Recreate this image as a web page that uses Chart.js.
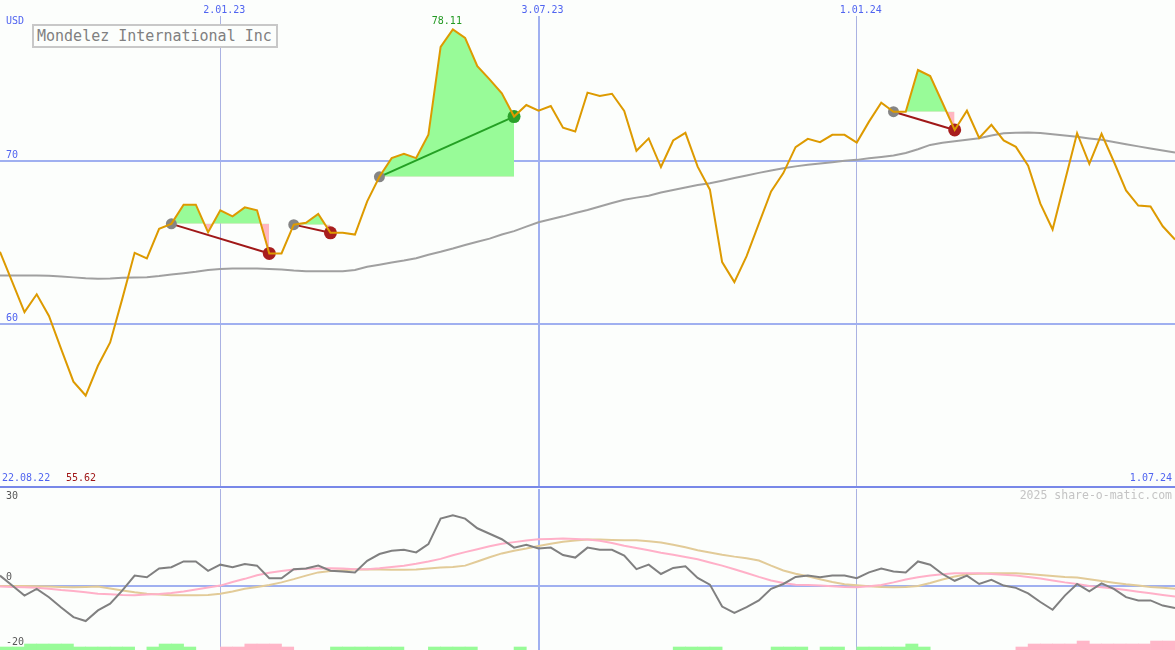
<!DOCTYPE html>
<html>
<head>
<meta charset="utf-8">
<title>Mondelez International Inc</title>
<script src="https://cdn.jsdelivr.net/npm/chart.js@4.4.1/dist/chart.umd.min.js"></script>
<style>
  body { margin: 0; background: #fcfefc; }
  #wrap { position: relative; width: 1175px; height: 650px; overflow: hidden; }
  #wrap canvas { position: absolute; left: 0; }
  .title {
    position: absolute; left: 32px; top: 24px; width: 246px; height: 24px;
    box-sizing: border-box; border: 2px solid #c8c8c8; background: #fcfefc;
    font: 15px "DejaVu Sans Mono", monospace; color: #808080;
    line-height: 20px; padding-left: 3px; white-space: nowrap;
  }
</style>
</head>
<body>
<div id="wrap">
  <canvas id="priceChart" width="1175" height="489" style="top:0"></canvas>
  <canvas id="oscChart" width="1175" height="161" style="top:489px"></canvas>
  <div class="title">Mondelez International Inc</div>
</div>
<script>
// weekly closes, 22.08.22 .. 1.07.24 (USD)
const price = [
  64.45, 62.60, 60.75, 61.84, 60.51, 58.47, 56.47, 55.62, 57.45, 58.88,
  61.59, 64.39, 64.04, 65.86, 66.17, 67.35, 67.35, 65.65, 67.00, 66.63,
  67.18, 67.00, 64.35, 64.35, 66.12, 66.23, 66.78, 65.62, 65.62, 65.51,
  67.55, 69.06, 70.21, 70.47, 70.21, 71.64, 77.04, 78.11, 77.59, 75.86,
  75.05, 74.19, 72.76, 73.47, 73.12, 73.41, 72.08, 71.84, 74.23, 74.02,
  74.16, 73.10, 70.66, 71.42, 69.66, 71.29, 71.76, 69.68, 68.27, 63.82,
  62.59, 64.18, 66.18, 68.16, 69.29, 70.88, 71.39, 71.19, 71.64, 71.64,
  71.16, 72.45, 73.61, 73.06, 73.06, 75.62, 75.25, 73.61, 71.94, 73.12,
  71.45, 72.25, 71.30, 70.90, 69.74, 67.41, 65.82, 68.78, 71.74, 69.86,
  71.70, 70.00, 68.22, 67.29, 67.24, 66.02, 65.21
];

// long moving average
const movingAvg = [
  63.00, 63.00, 63.00, 63.00, 62.98, 62.94, 62.88, 62.82, 62.80, 62.81,
  62.85, 62.88, 62.89, 62.96, 63.05, 63.13, 63.22, 63.33, 63.40, 63.43,
  63.43, 63.43, 63.40, 63.36, 63.30, 63.26, 63.26, 63.26, 63.26, 63.33,
  63.53, 63.66, 63.80, 63.92, 64.06, 64.27, 64.45, 64.65, 64.87, 65.07,
  65.26, 65.51, 65.72, 66.00, 66.27, 66.45, 66.63, 66.83, 67.02, 67.24,
  67.45, 67.65, 67.78, 67.90, 68.10, 68.25, 68.40, 68.55, 68.66, 68.82,
  68.98, 69.14, 69.30, 69.45, 69.58, 69.70, 69.80, 69.88, 69.96, 70.04,
  70.10, 70.20, 70.28, 70.37, 70.52, 70.75, 71.02, 71.15, 71.25, 71.34,
  71.43, 71.60, 71.74, 71.76, 71.78, 71.75, 71.68, 71.60, 71.52, 71.42,
  71.33, 71.20, 71.06, 70.93, 70.80, 70.68, 70.55
];

// trade signals: entry week, exit week, won?
const signalStart = [14, 24, 31, 73];
const signalEnd = [22, 27, 42, 78];
const signalWon = [false, false, true, false];

// lower panel: momentum and its two averages
const momentum = [
  3.1, 0.0, -3.1, -1.0, -3.6, -6.8, -9.8, -11.0, -7.7, -5.6,
  -1.5, 3.1, 2.6, 5.3, 5.7, 7.5, 7.5, 4.6, 6.5, 5.7,
  6.7, 6.2, 2.3, 2.3, 5.1, 5.3, 6.2, 4.6, 4.4, 4.1,
  7.7, 9.8, 10.8, 11.1, 10.3, 12.9, 20.8, 21.8, 20.8, 17.8,
  16.1, 14.4, 11.8, 12.7, 11.5, 11.8, 9.5, 8.7, 11.8, 11.1,
  11.1, 9.3, 5.1, 6.5, 3.6, 5.5, 6.0, 2.4, 0.3, -6.5,
  -8.5, -6.7, -4.6, -1.0, 0.5, 2.7, 3.1, 2.6, 3.1, 3.1,
  2.3, 4.1, 5.3, 4.4, 4.1, 7.5, 6.5, 3.6, 1.5, 3.1,
  0.5, 1.8, 0.0, -0.7, -2.4, -5.1, -7.5, -3.1, 0.5, -1.8,
  0.7, -1.0, -3.6, -4.6, -4.6, -6.2, -7.0
];
const fastAvg = [
  -0.3, -0.4, -0.5, -0.7, -1.0, -1.4, -1.7, -2.1, -2.5, -2.7,
  -2.9, -3.0, -2.8, -2.6, -2.3, -1.8, -1.2, -0.6, 0.0, 1.1,
  2.1, 3.2, 4.0, 4.5, 5.0, 5.2, 5.3, 5.4, 5.3, 5.1,
  5.1, 5.4, 5.8, 6.2, 6.8, 7.5, 8.3, 9.4, 10.4, 11.3,
  12.2, 13.0, 13.5, 14.0, 14.4, 14.5, 14.6, 14.5, 14.3, 13.9,
  13.2, 12.4, 11.7, 11.0, 10.2, 9.6, 8.9, 8.2, 7.2, 6.2,
  5.1, 3.9, 2.7, 1.6, 0.8, 0.3, 0.2, 0.0, -0.2, -0.4,
  -0.5, -0.2, 0.2, 1.0, 1.9, 2.6, 3.1, 3.5, 3.8, 3.8,
  3.8, 3.6, 3.4, 3.1, 2.7, 2.2, 1.6, 1.0, 0.5, -0.1,
  -0.5, -0.9, -1.4, -1.9, -2.4, -2.9, -3.4
];
const slowAvg = [
  -0.1, -0.1, -0.1, -0.2, -0.3, -0.4, -0.5, -0.4, -0.3, -0.9,
  -1.5, -2.1, -2.5, -2.8, -3.0, -3.0, -3.0, -2.9, -2.5, -1.8,
  -1.0, -0.4, 0.2, 1.0, 2.0, 3.1, 4.1, 4.5, 4.8, 5.0,
  5.0, 5.0, 4.9, 4.9, 5.0, 5.3, 5.6, 5.8, 6.2, 7.5,
  8.8, 10.0, 10.8, 11.5, 12.3, 13.0, 13.6, 14.0, 14.3, 14.3,
  14.2, 14.1, 14.1, 13.8, 13.4, 12.7, 11.9, 11.0, 10.3, 9.6,
  9.0, 8.5, 7.8, 6.2, 4.7, 3.7, 2.9, 2.0, 1.1, 0.4,
  0.1, -0.2, -0.4, -0.5, -0.4, -0.1, 0.8, 1.9, 2.8, 3.5,
  3.7, 3.8, 3.8, 3.8, 3.6, 3.3, 3.0, 2.7, 2.5, 2.0,
  1.4, 0.9, 0.4, 0.0, -0.4, -0.7, -1.0
];
// strength bars along the bottom: + green, - pink, 0 none
const barSignal = [
  1, 1, 2, 2, 2, 2, 1, 1, 1, 1, 1, 0, 1, 2, 2, 1, 0, 0,
  -1, -1, -2, -2, -2, -1, 0, 0, 0, 1, 1, 1, 1, 1, 1, 0, 0,
  1, 1, 1, 1, 0, 0, 0, 1, 0, 0, 0, 0, 0, 0, 0, 0, 0, 0, 0, 0,
  1, 1, 1, 1, 0, 0, 0, 0, 1, 1, 1, 0, 1, 1, 0, 1, 1, 1, 1, 2, 1,
  0, 0, 0, 0, 0, 0, 0, -1, -2, -2, -2, -2, -3, -2, -2, -2, -2, -2, -3, -3, 0
];

// axis labels
const gridWeeks = [18, 44, 70];
const dateLabels = ['2.01.23', '3.07.23', '1.01.24'];
const edgeDates = ['22.08.22', '1.07.24'];
const priceTicks = [50, 60, 70];
const oscTicks = [30, 0, -20];

const MONO = '"DejaVu Sans Mono", monospace';
const BLUE_TEXT = '#5064f0';
const GRID_BLUE = '#a0b0f0';
const GRID_THIN = '#aab2e2';
const SEPARATOR = '#7888e8';
const LAST_WEEK = price.length - 1;

const pts = arr => arr.map((v, i) => ({ x: i, y: v }));

// no label overflow padding, the axes sit flush with the canvas
function flush(s) {
  s.paddingTop = 0; s.paddingBottom = 0; s.paddingLeft = 0; s.paddingRight = 0;
}

// x axis shared by both panels
function weekAxis(showLabels) {
  return {
    type: 'linear', min: 0, max: LAST_WEEK, offset: false,
    position: showLabels ? 'top' : 'bottom',
    afterBuildTicks: s => { s.ticks = gridWeeks.map(v => ({ value: v })); },
    afterFit: s => { s.height = showLabels ? 16 : 0; flush(s); },
    ticks: {
      display: showLabels, autoSkip: false, maxRotation: 0,
      callback: (v, i) => dateLabels[i],
      font: { family: MONO, size: 10 }, color: BLUE_TEXT,
      padding: 0, labelOffset: 4
    },
    grid: {
      offset: false, drawTicks: false,
      color: c => c.index === 1 ? GRID_BLUE : GRID_THIN,
      lineWidth: c => c.index === 1 ? 2 : 1
    },
    border: { display: false }
  };
}

// ---------- upper panel: price ----------
const priceSets = [];
priceSets.push({
  data: pts(price), borderColor: '#dd9a00', borderWidth: 2,
  pointRadius: 0, tension: 0
});
signalStart.forEach((s, k) => {
  const e = signalEnd[k];
  priceSets.push({
    data: [{ x: e, y: price[e] }], showLine: false, pointRadius: 6.5,
    pointBackgroundColor: signalWon[k] ? '#2aa02a' : '#a81e1e', pointBorderWidth: 0
  });
  priceSets.push({
    data: [{ x: s, y: price[s] }], showLine: false, pointRadius: 5.5,
    pointBackgroundColor: '#858585', pointBorderWidth: 0
  });
  priceSets.push({
    data: [{ x: s, y: price[s] }, { x: e, y: price[e] }],
    borderColor: signalWon[k] ? '#24a024' : '#a01818', borderWidth: 2, pointRadius: 0
  });
});
priceSets.push({
  data: pts(movingAvg), borderColor: '#a0a0a0', borderWidth: 2, pointRadius: 0
});
signalStart.forEach((s, k) => {
  const seg = [];
  for (let i = s; i <= signalEnd[k]; i++) seg.push({ x: i, y: price[i] });
  priceSets.push({
    data: seg, borderWidth: 0, borderColor: 'transparent', pointRadius: 0,
    fill: { target: { value: price[s] }, above: '#98fb98', below: '#ffb6c1' }
  });
});

const priceText = {
  id: 'priceText',
  afterDraw(chart) {
    const { ctx, scales: { x } } = chart;
    const hi = Math.max(...price), lo = Math.min(...price);
    ctx.save();
    ctx.font = '10px ' + MONO;
    ctx.textBaseline = 'middle';
    ctx.fillStyle = BLUE_TEXT;
    ctx.textAlign = 'left';
    ctx.fillText('USD', 6, 21);
    ctx.fillText(edgeDates[0], 2, 478.5);
    ctx.textAlign = 'right';
    ctx.fillText(edgeDates[1], 1172, 478.5);
    ctx.fillStyle = '#a01818';
    ctx.textAlign = 'left';
    ctx.fillText(lo.toFixed(2), 66, 478.5);
    ctx.fillStyle = '#229922';
    ctx.textAlign = 'center';
    ctx.fillText(hi.toFixed(2), x.getPixelForValue(price.indexOf(hi)) - 6, 21);
    ctx.restore();
  }
};

new Chart(document.getElementById('priceChart'), {
  type: 'line',
  data: { datasets: priceSets },
  options: {
    responsive: false, animation: false,
    layout: { padding: { bottom: 2 }, autoPadding: false },
    plugins: { legend: { display: false }, tooltip: { enabled: false } },
    events: [],
    scales: {
      x: weekAxis(true),
      y: {
        type: 'linear', min: 50, max: 78.94,
        afterBuildTicks: s => { s.ticks = priceTicks.map(v => ({ value: v })); },
        afterFit: s => { s.width = 0; flush(s); },
        ticks: {
          mirror: true, padding: 6, labelOffset: -6,
          callback: v => v === priceTicks[0] ? '' : String(v),
          font: { family: MONO, size: 10 }, color: BLUE_TEXT
        },
        grid: {
          drawTicks: false, lineWidth: 2,
          color: c => c.tick.value === priceTicks[0] ? SEPARATOR : GRID_BLUE
        },
        border: { display: false }
      }
    }
  },
  plugins: [priceText]
});

// ---------- lower panel: oscillator ----------
const barUnit = 0.93;
const bars = [];
barSignal.forEach((b, i) => {
  if (b !== 0) bars.push({ x: i + 0.5, y: [-20, -20 + Math.abs(b) * barUnit], s: b });
});

const oscText = {
  id: 'oscText',
  afterDraw(chart) {
    const { ctx, scales: { y } } = chart;
    ctx.save();
    ctx.font = '10px ' + MONO;
    ctx.textBaseline = 'middle';
    ctx.textAlign = 'left';
    ctx.fillStyle = '#585858';
    oscTicks.forEach(v => {
      const off = v === y.max ? 7 : -8;
      ctx.fillText(String(v), 6, y.getPixelForValue(v) + off);
    });
    ctx.font = '11.5px ' + MONO;
    ctx.fillStyle = '#c4c4c4';
    ctx.textAlign = 'right';
    ctx.fillText('2025 share-o-matic.com', 1172, 7);
    ctx.restore();
  }
};

new Chart(document.getElementById('oscChart'), {
  type: 'line',
  data: {
    datasets: [
      { data: pts(momentum), borderColor: '#808080', borderWidth: 2, pointRadius: 0 },
      { data: pts(fastAvg), borderColor: '#ffb0c8', borderWidth: 2, pointRadius: 0 },
      { data: pts(slowAvg), borderColor: '#e2cb98', borderWidth: 2, pointRadius: 0 },
      {
        type: 'bar', data: bars, grouped: false,
        barPercentage: 1, categoryPercentage: 1, borderWidth: 0,
        backgroundColor: c => (c.raw && c.raw.s > 0) ? '#98fb98' : '#ffb6c8'
      }
    ]
  },
  options: {
    responsive: false, animation: false,
    layout: { autoPadding: false },
    plugins: { legend: { display: false }, tooltip: { enabled: false } },
    events: [],
    scales: {
      x: weekAxis(false),
      y: {
        type: 'linear', min: -20, max: 30,
        afterBuildTicks: s => { s.ticks = [{ value: 0 }]; },
        afterFit: s => { s.width = 0; flush(s); },
        ticks: { display: false },
        grid: { drawTicks: false, lineWidth: 2, color: GRID_BLUE },
        border: { display: false }
      }
    }
  },
  plugins: [oscText]
});
</script>
</body>
</html>
